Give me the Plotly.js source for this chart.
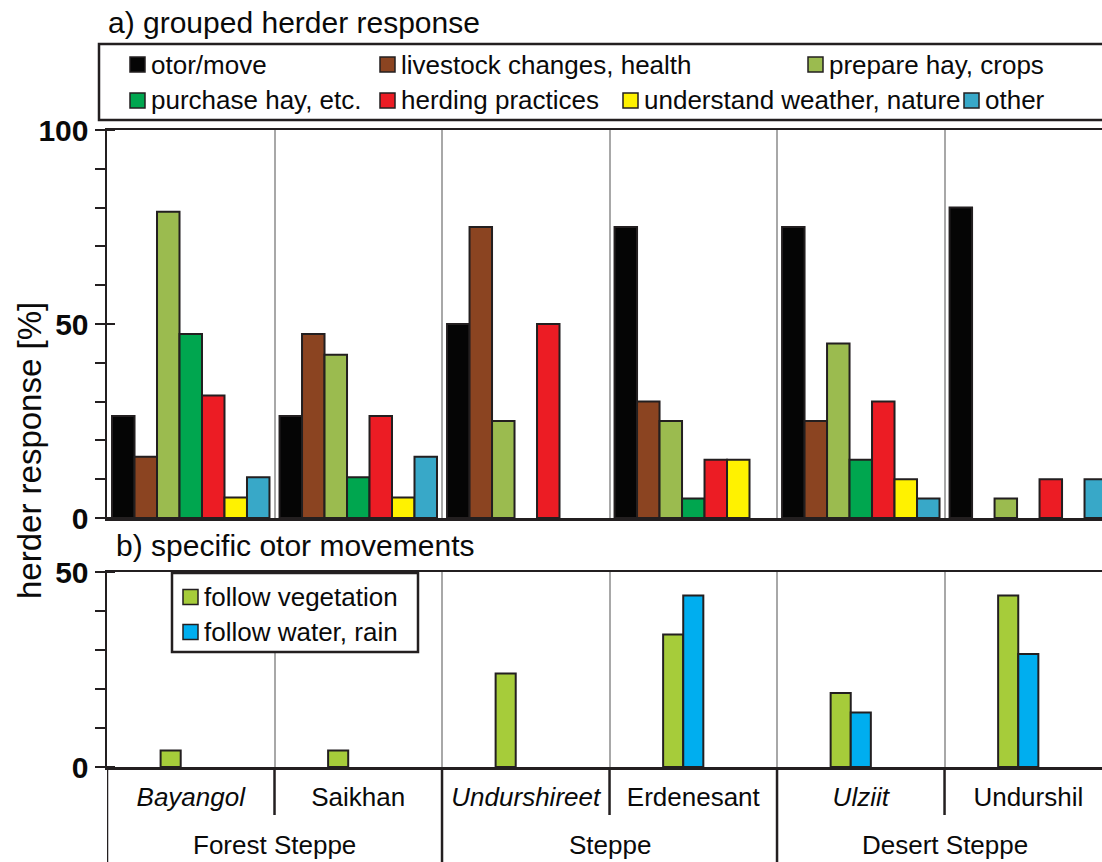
<!DOCTYPE html>
<html>
<head>
<meta charset="utf-8">
<script src="https://cdn.plot.ly/plotly-3.0.1.min.js"></script>
<style>html,body{margin:0;padding:0;background:#fff;}#chart{width:1102px;height:862px;}</style>
</head>
<body>
<div id="chart"></div>
<script>
// ---------- DATA ----------
const sites = ['Bayangol', 'Saikhan', 'Undurshireet', 'Erdenesant', 'Ulziit', 'Undurshil'];
const siteItalic = [true, false, true, false, true, false];
const zones = ['Forest Steppe', 'Steppe', 'Desert Steppe'];
const siteZone = [0, 0, 1, 1, 2, 2];

const seriesNamesA = ['otor/move', 'livestock changes, health', 'prepare hay, crops',
  'purchase hay, etc.', 'herding practices', 'understand weather, nature', 'other'];
const otorMove    = [26.3, 26.3, 50, 75, 75, 80];
const livestock   = [15.8, 47.4, 75, 30, 25, null];
const prepareHay  = [78.9, 42.1, 25, 25, 45, 5];
const purchaseHay = [47.4, 10.5, null, 5, 15, null];
const herding     = [31.6, 26.3, 50, 15, 30, 10];
const weather     = [5.3, 5.3, null, 15, 10, null];
const otherResp   = [10.5, 15.8, null, null, 5, 10];

const seriesNamesB = ['follow vegetation', 'follow water, rain'];
const followVeg   = [4.2, 4.2, 24, 34, 19, 44];
const followWater = [null, null, null, 44, 14, 29];

const yTicksA = [0, 50, 100];
const yTicksB = [0, 50];

// ---------- STYLE ----------
const colorsA = ['#050505', '#8b4421', '#9bbb4f', '#00a64f', '#ec1c24', '#fff200', '#38a8c8'];
const colorsB = ['#a6cc3a', '#00aeef'];
const FONT = 'Liberation Sans, Arial, Helvetica, sans-serif';
const INK = '#231f20';
const TXT = '#0a0a0a';
const W = 1102, H = 862, L = 107, R = 0;
const px = x => (x - L) / (W - L - R);
const py = y => 1 - y / H;

const siteLabels = sites.map((s, i) => siteItalic[i] ? '<i>' + s + '</i>' : s);
const valuesA = [otorMove, livestock, prepareHay, purchaseHay, herding, weather, otherResp];
const valuesB = [followVeg, followWater];

const traces = [];
valuesA.forEach((vals, k) => {
  traces.push({
    type: 'bar', name: seriesNamesA[k], x: siteLabels, y: vals,
    xaxis: 'x', yaxis: 'y',
    marker: {color: colorsA[k], line: {color: INK, width: 2}},
    showlegend: false, hoverinfo: 'name+y'
  });
});
const offsB = [-0.18, -0.06];
valuesB.forEach((vals, k) => {
  traces.push({
    type: 'bar', name: seriesNamesB[k], x: siteLabels, y: vals,
    xaxis: 'x2', yaxis: 'y2', width: 0.12, offset: offsB[k],
    marker: {color: colorsB[k], line: {color: INK, width: 2}},
    showlegend: false, hoverinfo: 'name+y'
  });
});

function tickSet(maxV, labeled) {
  const vals = [], txt = [];
  for (let v = 0; v <= maxV; v += 10) { vals.push(v); txt.push(labeled.includes(v) ? String(v) : ''); }
  return {vals, txt};
}
const tA = tickSet(100, yTicksA), tB = tickSet(50, yTicksB);

const xCommon = {
  type: 'category', range: [-0.5, 5.44], tickson: 'boundaries',
  showgrid: true, gridcolor: '#a8a8a8', gridwidth: 2,
  showline: true, mirror: true, linecolor: INK, linewidth: 2.5,
  ticks: '', zeroline: false, fixedrange: true
};
const yCommon = {
  ticks: 'outside', ticklen: 10, tickwidth: 2, tickcolor: INK,
  showline: true, linecolor: INK, linewidth: 2.5, showgrid: false, zeroline: false,
  tickfont: {family: FONT, size: 30, color: TXT, weight: 'bold'}, fixedrange: true
};

const shapes = [], annotations = [];

// inner part of the major y ticks (they cross the axis line)
yTicksA.forEach(v => shapes.push({type: 'line', xref: 'paper', yref: 'y', x0: 0, x1: px(115), y0: v, y1: v,
  line: {color: INK, width: 2}, layer: 'above'}));
yTicksB.forEach(v => shapes.push({type: 'line', xref: 'paper', yref: 'y2', x0: 0, x1: px(115), y0: v, y1: v,
  line: {color: INK, width: 2}, layer: 'above'}));

// bottom separators
shapes.push({type: 'line', xref: 'x2', yref: 'paper', x0: -0.5, x1: -0.5, y0: py(767), y1: py(866),
  line: {color: INK, width: 2.5}});
for (let i = 0; i < sites.length - 1; i++) {
  const long = siteZone[i] !== siteZone[i + 1];
  shapes.push({type: 'line', xref: 'x2', yref: 'paper', x0: i + 0.5, x1: i + 0.5,
    y0: py(767), y1: long ? py(866) : py(815), line: {color: INK, width: 2.5}});
}
// zone labels
zones.forEach((z, zi) => {
  const idx = siteZone.map((v, i) => v === zi ? i : null).filter(v => v !== null);
  const c = idx.reduce((a, b) => a + b, 0) / idx.length;
  annotations.push({xref: 'x2', yref: 'paper', x: c, y: py(845), text: z, showarrow: false,
    xanchor: 'center', yanchor: 'middle', font: {family: FONT, size: 26, color: TXT}});
});

// panel titles
annotations.push({xref: 'paper', yref: 'paper', x: px(106), y: py(23), text: 'a) grouped herder response',
  showarrow: false, xanchor: 'left', yanchor: 'middle', font: {family: FONT, size: 30, color: TXT}});
annotations.push({xref: 'paper', yref: 'paper', x: px(114), y: py(545), text: 'b) specific otor movements',
  showarrow: false, xanchor: 'left', yanchor: 'middle', font: {family: FONT, size: 30, color: TXT}});
// y title
annotations.push({xref: 'paper', yref: 'paper', x: px(29), y: py(451), text: 'herder response [%]',
  showarrow: false, textangle: -90, xanchor: 'center', yanchor: 'middle',
  font: {family: FONT, size: 33, color: TXT}});

// legend a (manual)
shapes.push({type: 'rect', xref: 'paper', yref: 'paper', x0: px(99), x1: px(1115), y0: py(120), y1: py(44),
  line: {color: INK, width: 2.5}, fillcolor: 'rgba(0,0,0,0)'});
const legPosA = [[130, 64.5], [380, 64.5], [808, 64.5], [130, 100.5], [380, 100.5], [623, 100.5], [964, 100.5]];
seriesNamesA.forEach((n, k) => {
  const [lx, ly] = legPosA[k];
  shapes.push({type: 'rect', xref: 'paper', yref: 'paper', x0: px(lx), x1: px(lx + 15),
    y0: py(ly + 7.5), y1: py(ly - 7.5), line: {color: INK, width: 1.5}, fillcolor: colorsA[k]});
  annotations.push({xref: 'paper', yref: 'paper', x: px(lx + 19), y: py(ly), text: n, showarrow: false,
    xanchor: 'left', yanchor: 'middle', font: {family: FONT, size: 26, color: TXT}});
});
// legend b (manual)
shapes.push({type: 'rect', xref: 'paper', yref: 'paper', x0: px(172), x1: px(418), y0: py(652), y1: py(573),
  line: {color: INK, width: 2.5}, fillcolor: '#ffffff', layer: 'above'});
const legPosB = [[183, 597], [183, 632]];
seriesNamesB.forEach((n, k) => {
  const [lx, ly] = legPosB[k];
  shapes.push({type: 'rect', xref: 'paper', yref: 'paper', x0: px(lx), x1: px(lx + 15),
    y0: py(ly + 7.5), y1: py(ly - 7.5), line: {color: INK, width: 1.5}, fillcolor: colorsB[k], layer: 'above'});
  annotations.push({xref: 'paper', yref: 'paper', x: px(lx + 19), y: py(ly), text: n, showarrow: false,
    xanchor: 'left', yanchor: 'middle', font: {family: FONT, size: 26, color: TXT}});
});

const layout = {
  width: W, height: H,
  margin: {l: L, r: R, t: 0, b: 0, pad: 0},
  paper_bgcolor: '#ffffff', plot_bgcolor: '#ffffff',
  font: {family: FONT, color: TXT},
  barmode: 'group', bargap: 0.06, bargroupgap: 0,
  showlegend: false,
  xaxis: Object.assign({}, xCommon, {domain: [0, 1], anchor: 'y', showticklabels: false}),
  yaxis: Object.assign({}, yCommon, {domain: [py(518), py(130)], anchor: 'x', range: [0, 100],
    tickmode: 'array', tickvals: tA.vals, ticktext: tA.txt}),
  xaxis2: Object.assign({}, xCommon, {domain: [0, 1], anchor: 'y2', showticklabels: true,
    ticklabelstandoff: 5, tickfont: {family: FONT, size: 26, color: TXT}}),
  yaxis2: Object.assign({}, yCommon, {domain: [py(767), py(572)], anchor: 'x2', range: [0, 50],
    tickmode: 'array', tickvals: tB.vals, ticktext: tB.txt}),
  shapes: shapes, annotations: annotations
};

Plotly.newPlot('chart', traces, layout, {displayModeBar: false, staticPlot: true});
</script>
</body>
</html>
